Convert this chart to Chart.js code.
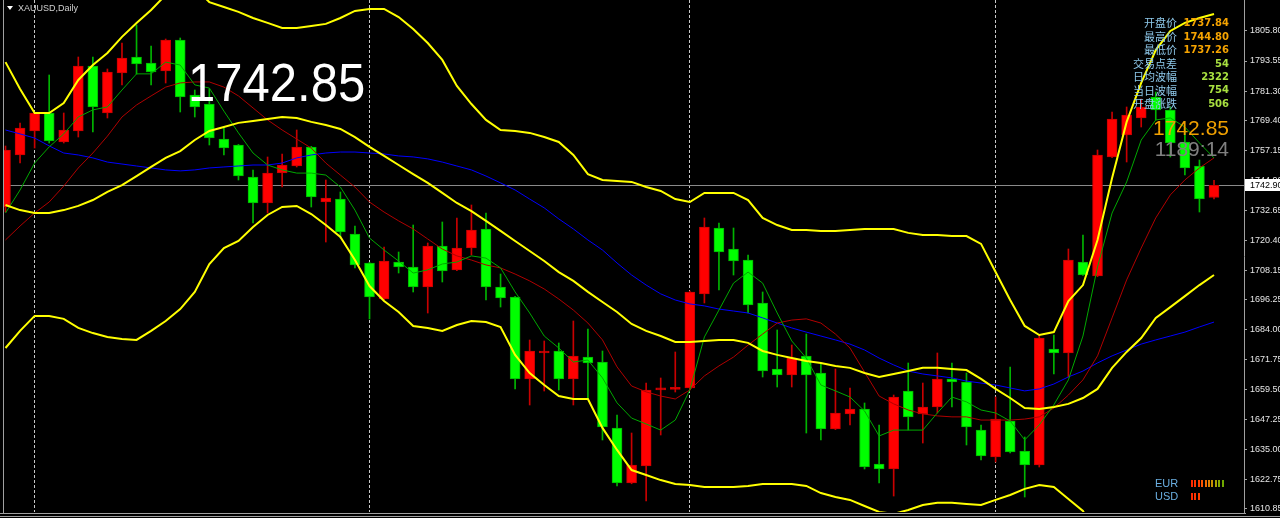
<!DOCTYPE html>
<html><head><meta charset="utf-8">
<script src="https://cdn.jsdelivr.net/npm/chart.js@4.4.1/dist/chart.umd.min.js"></script>
<style>
html,body{margin:0;padding:0;background:#000;overflow:hidden;}
#wrap{position:relative;width:1280px;height:518px;overflow:hidden;background:#000;}
#c{position:absolute;left:0;top:0;}
.t{position:absolute;white-space:nowrap;}
</style></head><body>
<div id="wrap"><canvas id="c" width="1280" height="518"></canvas></div>
<script>
// ---- data (XAUUSD Daily) ----
const opens = [1733.96,1755.18,1764.98,1772.33,1760.49,1764.98,1791.51,1772.33,1788.65,1795.18,
1792.74,1789.47,1802.12,1779.67,1776.00,1761.71,1759.27,1746.20,1735.59,1747.84,
1750.69,1758.45,1736.00,1737.22,1722.94,1711.10,1696.41,1711.51,1709.47,1701.31,
1718.04,1708.25,1717.22,1724.98,1701.31,1697.22,1663.76,1674.37,1675.18,1663.76,
1672.73,1670.69,1643.76,1621.31,1628.24,1659.30,1659.50,1660.08,1698.45,1725.39,
1716.82,1712.33,1694.78,1667.84,1665.39,1673.14,1666.20,1643.35,1649.47,1651.51,
1629.06,1627.02,1658.86,1649.47,1652.33,1663.76,1662.53,1642.94,1631.92,1646.61,
1634.37,1628.65,1675.99,1674.37,1711.51,1705.80,1754.37,1763.35,1770.29,1778.86,
1773.55,1760.49,1750.69,1737.84];
const highs = [1758.86,1768.24,1772.50,1787.84,1772.33,1795.18,1795.18,1790.29,1800.90,1808.25,
1799.67,1802.53,1802.94,1781.71,1782.12,1766.20,1759.50,1749.06,1754.37,1755.59,
1765.39,1758.70,1744.98,1740.08,1726.20,1711.40,1717.63,1715.59,1726.61,1719.27,
1727.84,1729.47,1734.78,1731.51,1706.61,1697.50,1679.67,1679.27,1678.45,1687.43,
1684.16,1675.18,1649.06,1641.71,1662.12,1664.16,1674.78,1699.60,1729.47,1727.43,
1725.39,1714.37,1699.27,1683.76,1677.63,1682.12,1670.29,1667.84,1660.08,1653.96,
1644.98,1657.22,1670.29,1662.12,1674.37,1670.29,1666.20,1644.98,1656.41,1668.65,
1640.08,1681.71,1681.71,1716.82,1722.53,1757.23,1772.74,1774.78,1778.04,1780.90,
1774.78,1766.20,1753.14,1744.80];
const lows = [1731.92,1751.92,1758.04,1760.08,1760.08,1762.53,1764.57,1770.29,1783.76,1788.25,
1783.76,1784.57,1772.74,1770.69,1759.27,1755.18,1744.98,1727.43,1731.51,1742.12,
1750.29,1733.96,1719.67,1721.31,1709.06,1688.25,1696.10,1707.02,1699.27,1690.69,
1703.35,1708.00,1714.37,1696.00,1693.14,1659.67,1653.14,1658.86,1659.27,1653.14,
1655.59,1638.86,1620.08,1621.00,1613.96,1640.90,1658.45,1659.27,1694.78,1700.08,
1706.20,1690.69,1664.57,1660.49,1660.49,1641.71,1638.86,1643.10,1644.98,1627.02,
1621.31,1615.99,1642.94,1637.63,1649.88,1652.33,1636.82,1630.69,1629.88,1633.55,
1615.59,1627.84,1665.80,1664.57,1706.00,1705.50,1754.10,1752.33,1766.61,1769.47,
1754.37,1747.02,1731.92,1737.26];
const closes = [1757.23,1766.20,1772.33,1760.90,1765.39,1791.51,1774.78,1789.06,1794.78,1792.33,
1789.06,1802.12,1778.86,1774.78,1762.12,1758.04,1746.61,1735.59,1747.84,1751.10,
1758.45,1738.04,1737.63,1723.76,1710.29,1697.22,1711.92,1709.47,1701.31,1718.04,
1707.84,1717.22,1724.57,1701.31,1696.82,1663.76,1675.18,1675.18,1663.76,1673.14,
1670.29,1644.16,1621.31,1628.65,1659.27,1659.70,1659.90,1699.27,1725.80,1715.59,
1711.92,1693.96,1667.02,1665.39,1672.33,1665.39,1643.35,1649.88,1651.51,1627.84,
1627.02,1656.41,1648.24,1652.33,1663.76,1662.53,1644.16,1632.33,1647.43,1634.00,
1628.65,1680.49,1674.37,1712.33,1706.20,1755.18,1769.88,1771.51,1774.78,1773.55,
1760.08,1749.88,1737.22,1742.85];

const maFast = [1731.5,1740.9,1751.9,1758.5,1763.8,1770.7,1773.6,1774.8,1781.7,1788.3,
1788.3,1793.1,1791.9,1783.8,1782.5,1773.1,1764.2,1756.0,1751.1,1749.1,
1747.8,1747.8,1747.0,1742.1,1732.7,1721.3,1716.4,1711.9,1707.0,1708.3,
1710.7,1711.5,1714.0,1713.1,1709.1,1699.3,1690.7,1681.3,1676.4,1670.7,
1671.5,1664.2,1654.0,1647.8,1645.4,1642.9,1647.0,1659.3,1680.9,1691.9,
1702.9,1707.4,1702.9,1690.7,1679.3,1672.3,1661.3,1658.9,1656.4,1650.7,
1640.5,1642.9,1642.9,1642.9,1649.9,1656.4,1654.4,1651.1,1649.9,1646.6,
1638.9,1645.0,1653.2,1663.4,1681.3,1709.5,1731.5,1744.2,1761.3,1769.5,
1770.3,1766.6,1760.1,1754.0];
const maMid = [1720.5,1726.2,1731.5,1736.0,1742.5,1749.9,1756.0,1762.9,1770.7,1775.6,
1779.3,1782.9,1784.6,1785.0,1785.0,1782.9,1779.3,1774.4,1769.5,1765.4,
1761.7,1758.0,1751.9,1747.0,1742.1,1736.0,1731.9,1728.3,1725.0,1720.9,
1716.8,1714.0,1712.3,1710.3,1709.1,1706.6,1703.8,1700.5,1696.4,1691.9,
1686.6,1679.7,1668.7,1660.9,1658.5,1656.8,1655.6,1659.3,1665.0,1669.1,
1672.7,1677.6,1682.1,1686.6,1687.8,1688.3,1686.6,1682.1,1676.4,1666.6,
1656.8,1653.6,1651.1,1649.5,1648.7,1648.3,1648.3,1647.0,1647.0,1647.0,
1647.4,1648.3,1651.9,1657.2,1663.4,1673.2,1688.7,1704.2,1717.2,1729.5,
1738.9,1745.0,1749.9,1754.0];
const maSlow = [1765.4,1763.8,1762.1,1758.9,1756.0,1755.2,1754.0,1752.3,1751.5,1750.7,
1749.9,1749.1,1748.7,1749.1,1749.9,1750.3,1750.7,1751.1,1751.1,1751.9,
1754.0,1755.2,1756.0,1756.4,1756.4,1756.0,1755.6,1754.8,1754.4,1753.6,
1752.3,1750.7,1749.1,1746.6,1743.8,1740.9,1737.2,1733.6,1729.1,1725.0,
1720.5,1716.4,1711.1,1706.2,1702.1,1698.5,1696.0,1694.4,1693.6,1692.3,
1691.5,1690.7,1688.7,1686.6,1684.6,1682.9,1681.3,1679.7,1678.0,1675.6,
1672.3,1669.5,1667.0,1665.8,1665.0,1664.2,1662.9,1662.1,1661.3,1660.1,
1658.9,1659.7,1661.7,1664.6,1667.0,1670.3,1673.2,1675.6,1678.0,1679.7,
1681.3,1682.9,1685.0,1687.0];
const bbUpper = [1793.1,1782.1,1772.3,1772.3,1776.4,1785.8,1791.9,1796.8,1803.4,1809.1,
1814.4,1820.5,1821.3,1823.4,1817.6,1815.6,1813.6,1811.1,1809.1,1807.0,
1807.0,1807.8,1808.7,1811.1,1814.0,1814.8,1814.8,1811.5,1806.6,1800.9,
1794.0,1783.4,1776.0,1769.5,1765.4,1765.0,1764.2,1762.5,1760.5,1755.2,
1747.4,1745.0,1744.6,1744.2,1742.1,1740.5,1737.2,1736.0,1739.7,1739.7,
1739.7,1736.8,1729.5,1726.6,1724.6,1724.6,1724.2,1724.2,1724.6,1725.0,
1725.0,1725.0,1723.4,1722.5,1722.5,1722.1,1722.1,1718.9,1707.4,1696.0,
1685.4,1681.7,1682.9,1695.6,1702.1,1720.5,1745.8,1768.7,1784.6,1798.0,
1805.8,1809.1,1811.1,1812.7];
const bbMiddle = [1734.8,1732.7,1731.5,1731.5,1732.7,1734.4,1736.8,1740.1,1742.9,1746.6,
1750.3,1754.0,1756.8,1761.3,1765.0,1766.6,1768.3,1769.1,1769.9,1770.7,
1770.3,1768.7,1767.4,1765.8,1762.5,1758.5,1754.8,1751.1,1747.4,1743.8,
1739.7,1735.6,1732.3,1728.3,1724.2,1720.1,1716.0,1711.9,1707.4,1703.8,
1699.3,1695.2,1691.1,1686.2,1683.4,1681.3,1678.9,1678.9,1679.3,1679.7,
1679.7,1678.5,1675.2,1673.6,1672.3,1671.1,1670.3,1669.1,1668.3,1666.2,
1664.6,1665.8,1667.0,1668.3,1668.3,1667.8,1667.4,1663.8,1659.7,1656.0,
1651.9,1651.5,1652.3,1653.6,1656.0,1659.7,1668.3,1674.8,1680.5,1688.7,
1693.1,1697.6,1702.1,1706.2];
const bbLower = [1676.4,1683.4,1689.5,1689.5,1688.3,1684.6,1682.5,1680.9,1680.1,1679.7,
1683.4,1687.4,1692.3,1699.3,1710.7,1717.2,1720.1,1725.8,1730.7,1734.0,
1734.4,1731.1,1726.6,1721.7,1712.3,1701.7,1695.6,1691.1,1685.4,1684.6,
1683.4,1685.8,1687.4,1687.0,1685.0,1673.6,1666.2,1661.3,1656.8,1655.6,
1655.6,1643.8,1634.8,1626.6,1624.6,1622.5,1620.9,1620.5,1619.7,1619.7,
1619.7,1620.1,1620.9,1620.9,1620.9,1620.1,1617.2,1615.6,1614.4,1611.9,
1609.5,1608.7,1610.3,1612.3,1613.2,1613.2,1612.7,1612.3,1614.4,1616.4,
1618.9,1620.5,1619.7,1614.8,1609.9,1598.9,1590.7,1580.9,1576.4,1579.3,
1580.5,1586.2,1593.1,1599.7];

const yTicks = [1805.80,1793.55,1781.30,1769.40,1757.15,1744.90,1732.65,1720.40,1708.15,
1696.25,1684.00,1671.75,1659.50,1647.25,1635.00,1622.75,1610.85];
const bidPrice = 1742.90;
const monthStarts = [2, 25, 47, 68];
const symbolLabel = 'XAUUSD,Daily';
const bigPrice = '1742.85';
const infoLabels = ['开盘价','最高价','最低价','交易点差','日均波幅','当日波幅','开盘涨跌'];
const infoValues = ['1737.84','1744.80','1737.26','54','2322','754','506'];
const timerText = '1189:14';

// ---- overlays (text) ----
const wrap = document.getElementById('wrap');
function addText(txt, css){ const d=document.createElement('div'); d.className='t'; d.textContent=txt; Object.assign(d.style, css); wrap.appendChild(d); return d; }
const tri = document.createElement('div');
Object.assign(tri.style,{position:'absolute',left:'7px',top:'6px',width:'0',height:'0',borderLeft:'3px solid transparent',borderRight:'3px solid transparent',borderTop:'4px solid #ffffff'});
wrap.appendChild(tri);
addText(symbolLabel,{left:'18px',top:'3px',font:'9px "Liberation Sans", Arial, sans-serif',lineHeight:'11px',color:'#d0d0d0'});
addText(bigPrice,{left:'188px',top:'56px',font:'53px "Liberation Sans", Arial, sans-serif',lineHeight:'53px',color:'#ffffff',transform:'scaleX(0.925)',transformOrigin:'0 0'});
infoLabels.forEach((lab,k)=>{
  const yc = 23 + 13.45*k;
  addText(lab,{right:(1280-1177)+'px',top:(yc-7.6)+'px',font:'11px "Noto Sans CJK SC", sans-serif',lineHeight:'14px',color:'#8ec8ea'});
  addText(infoValues[k],{right:(1280-1229)+'px',top:(yc-6.8)+'px',font:'bold 10px "DejaVu Sans", sans-serif',lineHeight:'14px',color: k<3 ? '#f5a300' : '#a8e040'});
});
addText(bigPrice,{right:(1280-1229)+'px',top:'117px',font:'21px "Liberation Sans", Arial, sans-serif',lineHeight:'21px',color:'#f0a000'});
addText(timerText,{right:(1280-1229)+'px',top:'138px',font:'21px "Liberation Sans", Arial, sans-serif',lineHeight:'21px',color:'#808080'});
addText('EUR',{left:'1155px',top:'476.6px',font:'11px "Liberation Sans", Arial, sans-serif',lineHeight:'12px',color:'#6aaee0'});
addText('USD',{left:'1155px',top:'490.1px',font:'11px "Liberation Sans", Arial, sans-serif',lineHeight:'12px',color:'#6aaee0'});
const eurBars = ['#ff2a00','#ff3300','#ff4000','#ff5500','#f06a00','#e08000','#c89000','#a8a000','#88a800','#70a800'];
const usdBars = ['#ff2a00','#ff3300','#ff4000'];
function meter(cols, top){ cols.forEach((c,i)=>{ const s=document.createElement('div'); Object.assign(s.style,{position:'absolute',left:(1191+i*3.4)+'px',top:top+'px',width:'2px',height:'7px',background:c}); wrap.appendChild(s); }); }
meter(eurBars, 479.5); meter(usdBars, 492.5);

// ---- chart ----
const idx = opens.map((_, i) => i);
const isUp = idx.map(i => closes[i] >= opens[i]);
const UP_BODY='#ff0000', DN_BODY='#00ff00', UP_WICK='#c80000', DN_WICK='#00b400';
const lineDs = (arr, color, w, order) => ({type:'line', data: idx.map(i=>({x:i,y:arr[i]})), borderColor: color, borderWidth: w, pointRadius:0, pointHoverRadius:0, tension:0, fill:false, order});

const deco = {
  id:'deco',
  beforeDraw(c){ const ctx=c.ctx; ctx.save(); ctx.fillStyle='#000'; ctx.fillRect(0,0,c.width,c.height); ctx.restore(); },
  beforeDatasetsDraw(c){
    const {ctx, chartArea:a, scales:{x,y}} = c; ctx.save();
    ctx.strokeStyle='#c8c8c8'; ctx.lineWidth=1; ctx.setLineDash([3,2]);
    monthStarts.forEach(i=>{ const px=Math.round(x.getPixelForValue(i))-0.5; ctx.beginPath(); ctx.moveTo(px,a.top); ctx.lineTo(px,a.bottom); ctx.stroke(); });
    ctx.setLineDash([]); ctx.strokeStyle='#8a8a8a';
    const py=Math.round(y.getPixelForValue(bidPrice))+0.5;
    ctx.beginPath(); ctx.moveTo(a.left,py); ctx.lineTo(a.right,py); ctx.stroke();
    ctx.restore();
  },
  afterDraw(c){
    const {ctx, chartArea:a, scales:{y}} = c; ctx.save();
    ctx.fillStyle='#a0a0a0';
    ctx.fillRect(3,0,1,514);
    ctx.fillRect(0,513,1246,1);
    ctx.fillRect(0,516,1280,1);
    const py=Math.round(y.getPixelForValue(bidPrice));
    ctx.fillStyle='#ffffff'; ctx.fillRect(a.right+1,py-6,1280-a.right-1,12);
    ctx.fillStyle='#000000'; ctx.font='9px "Liberation Sans", Arial, sans-serif'; ctx.textBaseline='middle'; ctx.textAlign='left';
    ctx.fillText(bidPrice.toFixed(2), a.right+6, py+0.5);
    ctx.restore();
  }
};

new Chart(document.getElementById('c'), {
  type:'bar',
  data:{ datasets:[
    lineDs(bbUpper,'#ffff00',2,1), lineDs(bbMiddle,'#ffff00',2,1), lineDs(bbLower,'#ffff00',2,1),
    lineDs(maFast,'#00a800',1,2), lineDs(maMid,'#b00000',1,2), lineDs(maSlow,'#0000ff',1,2),
    {type:'bar', data: idx.map(i=>({x:i,y:[opens[i],closes[i]]})), backgroundColor: idx.map(i=>isUp[i]?UP_BODY:DN_BODY),
      borderColor: idx.map(i=>isUp[i]?UP_WICK:DN_WICK), borderWidth:1, borderSkipped:false, barThickness:10, minBarLength:2, grouped:false, order:3, clip:0},
    {type:'bar', data: idx.map(i=>({x:i,y:[lows[i],highs[i]]})), backgroundColor: idx.map(i=>isUp[i]?UP_WICK:DN_WICK),
      borderWidth:0, barThickness:1, grouped:false, order:4, clip:0}
  ]},
  options:{
    responsive:false, animation:false, events:[],
    layout:{padding:{left:4,top:0,right:0,bottom:6}},
    plugins:{legend:{display:false}, tooltip:{enabled:false}},
    scales:{
      x:{type:'linear', min:-0.103, max:85.06, offset:false, display:false, grid:{display:false}},
      y:{position:'right', min:1609.47, max:1818.45,
        afterBuildTicks: s => { s.ticks = yTicks.map(v=>({value:v})); },
        afterFit: s => { s.width = 36; s.paddingTop = 0; s.paddingBottom = 0; },
        ticks:{color:'#e6e6e6', font:{family:'"Liberation Sans", Arial, sans-serif', size:9}, padding:3, autoSkip:false, maxRotation:0,
          callback: v => Number(v).toFixed(2)},
        grid:{drawOnChartArea:false, drawTicks:true, tickLength:3, color:'#a0a0a0'},
        border:{display:true, color:'#a0a0a0'}
      }
    }
  },
  plugins:[deco]
});
</script>
</body></html>
